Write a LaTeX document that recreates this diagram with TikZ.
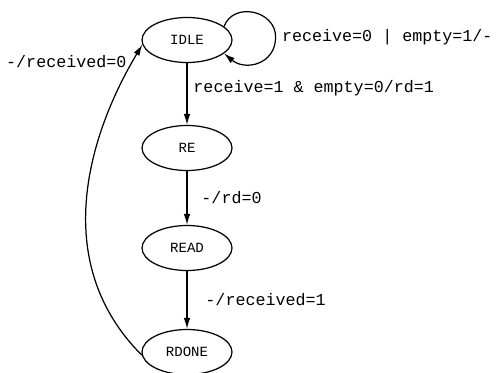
\documentclass[tikz,border=0pt]{standalone}
\usepackage{fontspec}
\setmonofont{Liberation Mono}
\usepackage{tikz}
\usetikzlibrary{shapes.geometric,arrows.meta,calc}
\tikzset{
  state/.style={draw, ellipse, line width=0.7pt, minimum width=1.8cm, minimum height=0.9cm, inner sep=0pt, font=\ttfamily\fontsize{8}{9.6}\selectfont},
  edge/.style={draw, line width=0.7pt, -{Latex[length=2.2mm,width=1.3mm]}},
  lab/.style={font=\ttfamily\fontsize{9.5}{11}\selectfont}
}
\begin{document}
\begin{tikzpicture}
  \useasboundingbox (0,0) rectangle (10,7.44);
  % states
  \node[state] (IDLE)  at (3.74,6.64) {IDLE};
  \node[state] (RE)    at (3.74,4.48) {RE};
  \node[state] (READ)  at (3.74,2.48) {READ};
  \node[state] (RDONE) at (3.74,0.40) {RDONE};
  \coordinate (loopR) at ($(IDLE.east)+(0.86,0.06)$);
  % transitions
  \draw[edge] (IDLE.20) to[out=70, in=90, looseness=1.3] (loopR)
    node[lab, right] {receive=0 | empty=1/-}
    to[out=-90, in=-40, looseness=1.3] (IDLE.-20);
  \draw[edge] (IDLE.south) -- node[lab, pos=0.4, right] {receive=1 \& empty=0/rd=1} (RE.north);
  \draw[edge] (RE.south) -- node[lab, right, xshift=0.16cm] {-/rd=0} (READ.north);
  \draw[edge] (READ.south) -- node[lab, right, xshift=0.24cm] {-/received=1} (RDONE.north);
  \draw[edge] (RDONE.184) to[out=135, in=239, out distance=2.68cm, in distance=2cm] (IDLE.186);
  \node[lab, anchor=west] (lblret) at (0,6.2) {-/received=0};
\end{tikzpicture}
\end{document}
